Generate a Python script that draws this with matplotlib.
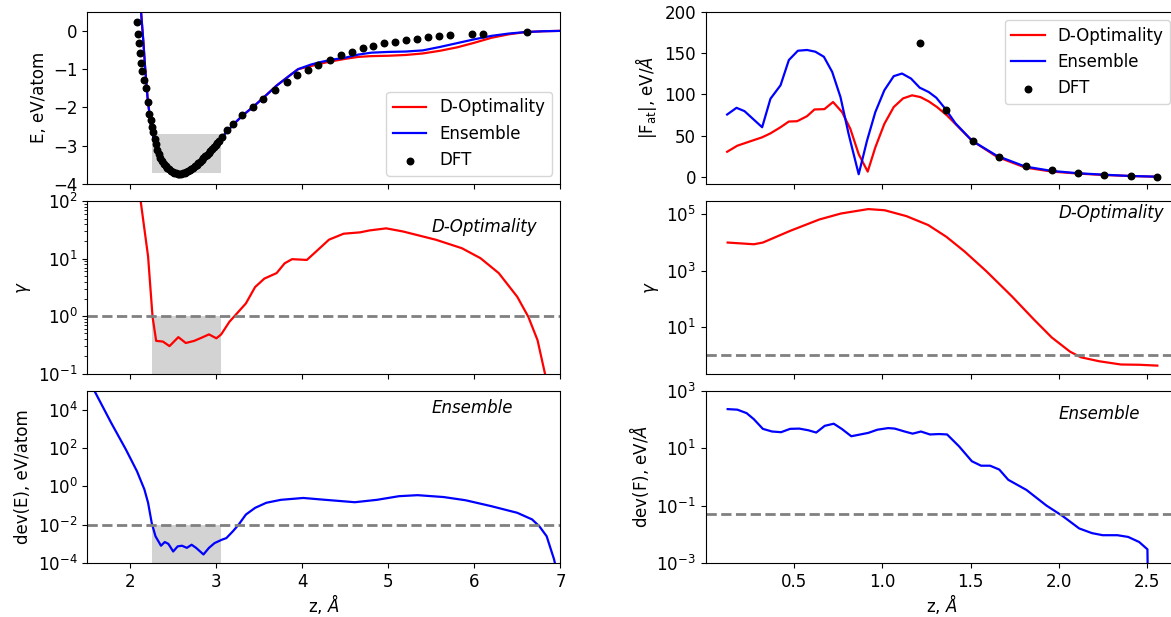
import matplotlib
matplotlib.use('Agg')
import matplotlib.pyplot as plt
from matplotlib.patches import Rectangle
from matplotlib.ticker import NullLocator

plt.rcParams['font.size'] = 12

# --- left column: energy vs z ---
z_common = [2.09, 2.11, 2.124, 2.15, 2.171, 2.20, 2.237, 2.27, 2.30, 2.35, 2.40, 2.45, 2.50,
            2.55, 2.60, 2.65, 2.70, 2.75, 2.80, 2.85, 2.90, 2.95, 3.00, 3.05, 3.10, 3.20,
            3.30, 3.43, 3.55, 3.70, 3.85, 3.95]
e_common = [1.5, 0.9, 0.5, -0.25, -0.94, -1.75, -2.45, -2.82, -3.03, -3.32, -3.50, -3.62, -3.69,
            -3.72, -3.72, -3.69, -3.62, -3.54, -3.44, -3.33, -3.21, -3.08, -2.95, -2.82, -2.69, -2.44,
            -2.22, -1.98, -1.74, -1.43, -1.17, -1.0]
z_tail = [4.10, 4.20, 4.35, 4.50, 4.65, 4.80, 5.00, 5.20, 5.40, 5.60, 5.80, 6.00, 6.20, 6.40,
          6.60, 6.80, 7.00]
e_dopt_tail = [-0.92, -0.86, -0.79, -0.73, -0.68, -0.66, -0.65, -0.63, -0.59, -0.52, -0.43, -0.31,
               -0.18, -0.09, -0.03, -0.01, 0.0]
e_ens_tail = [-0.88, -0.82, -0.75, -0.70, -0.62, -0.57, -0.55, -0.54, -0.51, -0.42, -0.32, -0.22,
              -0.13, -0.07, -0.03, -0.01, 0.0]

z_dft = [2.082, 2.09, 2.098, 2.109, 2.124, 2.14, 2.163, 2.182, 2.202, 2.221, 2.237, 2.252, 2.268,
         2.285, 2.30, 2.31, 2.33, 2.35, 2.37, 2.39, 2.41, 2.43, 2.45, 2.47, 2.49, 2.51, 2.53,
         2.55, 2.57, 2.59, 2.61, 2.63, 2.65, 2.67, 2.69, 2.71, 2.73, 2.75, 2.77, 2.79, 2.81,
         2.83, 2.85, 2.87, 2.89, 2.91, 2.93, 2.95, 2.97, 2.99, 3.01, 3.03, 3.06, 3.12,
         3.198, 3.295, 3.43, 3.547, 3.683, 3.818, 3.942, 4.07, 4.186, 4.322, 4.446, 4.574, 4.702,
         4.826, 4.95, 5.078, 5.206, 5.33, 5.462, 5.59, 5.717, 5.97, 6.097, 6.609]
e_dft = [0.24, -0.07, -0.33, -0.59, -0.83, -1.05, -1.29, -1.48, -1.85, -2.16, -2.33, -2.50, -2.64,
         -2.82, -2.96, -3.10, -3.22, -3.32, -3.40, -3.47, -3.53, -3.58, -3.62, -3.66, -3.68, -3.70,
         -3.72, -3.73, -3.73, -3.73, -3.72, -3.71, -3.69, -3.67, -3.64, -3.61, -3.58, -3.54, -3.50,
         -3.46, -3.42, -3.38, -3.33, -3.28, -3.23, -3.18, -3.13, -3.08, -3.03, -2.98, -2.92, -2.87,
         -2.78, -2.60, -2.42, -2.20, -1.98, -1.77, -1.55, -1.33, -1.16, -1.03, -0.90, -0.75, -0.63,
         -0.55, -0.46, -0.40, -0.33, -0.29, -0.24, -0.20, -0.17, -0.14, -0.11, -0.09, -0.07, -0.03]

z_gamma_l = [2.10, 2.12, 2.206, 2.258, 2.30, 2.378, 2.455, 2.558, 2.644, 2.742, 2.828, 2.914, 3.0,
             3.056, 3.15, 3.236, 3.343, 3.45, 3.558, 3.70, 3.794, 3.88, 4.052, 4.18, 4.309, 4.48,
             4.67, 4.78, 4.974, 5.167, 5.554, 5.854, 6.07, 6.283, 6.498, 6.627, 6.734, 6.82, 6.86]
gamma_l = [250, 100, 10.9, 0.97, 0.37, 0.36, 0.30, 0.43, 0.34, 0.37, 0.42, 0.48, 0.41,
           0.48, 0.79, 1.1, 1.66, 3.2, 4.5, 5.6, 8.3, 9.8, 9.5, 14.2, 21.4, 27.2,
           28.7, 31, 33.7, 29.8, 21.3, 15.2, 10.2, 5.6, 2.17, 0.97, 0.38, 0.1, 0.03]

z_dev_e = [1.55, 1.584, 1.777, 1.948, 2.077, 2.163, 2.206, 2.249, 2.292, 2.356, 2.40, 2.442, 2.498,
           2.55, 2.60, 2.657, 2.712, 2.764, 2.85, 2.914, 2.979, 3.064, 3.116, 3.193, 3.258, 3.343,
           3.45, 3.58, 3.75, 4.01, 4.266, 4.61, 4.867, 5.124, 5.339, 5.64, 5.897, 6.197, 6.498,
           6.67, 6.755, 6.84, 6.927, 6.96]
dev_e = [2e5, 9.5e4, 2.1e3, 85, 6.2, 0.7, 0.14, 0.012, 2.5e-3, 8e-4, 1.25e-3, 1.0e-3, 4e-4,
         7.4e-4, 8e-4, 6.2e-4, 9e-4, 6.2e-4, 2.8e-4, 6.2e-4, 1.1e-3, 1.65e-3, 2.0e-3, 4.6e-3, 0.010,
         0.034, 0.076, 0.14, 0.20, 0.25, 0.20, 0.15, 0.20, 0.31, 0.35, 0.28, 0.19, 0.093, 0.042,
         0.019, 8.3e-3, 2.5e-3, 1.5e-4, 3e-5]

# --- right column: force vs z ---
z_f_ens = [0.123, 0.176, 0.221, 0.321, 0.368, 0.425, 0.472, 0.523, 0.575, 0.622, 0.67, 0.717,
           0.764, 0.81, 0.867, 0.914, 0.961, 1.012, 1.065, 1.112, 1.163, 1.212, 1.263, 1.306,
           1.357, 1.414, 1.508, 1.649, 1.809, 1.96, 2.11, 2.251, 2.402, 2.553]
f_ens = [75.6, 83.7, 79.7, 60.2, 94.7, 111, 141.5, 152.8, 153.7, 151.6, 145.5, 127.2,
         96.7, 52, 3.3, 43.9, 78.5, 104.9, 122, 125.2, 119.1, 108.1, 102.8, 95.9,
         82.5, 65, 43.9, 25.6, 12.6, 7.3, 4.5, 2.8, 1.2, 0.4]
z_f_dopt = [0.123, 0.18, 0.236, 0.321, 0.368, 0.425, 0.472, 0.519, 0.575, 0.617, 0.673, 0.722,
            0.773, 0.82, 0.867, 0.918, 0.961, 1.012, 1.065, 1.118, 1.169, 1.216, 1.263, 1.31,
            1.367, 1.442, 1.508, 1.649, 1.809, 1.96, 2.11, 2.251, 2.402, 2.553]
f_dopt = [30.5, 37.8, 41.9, 48, 52.8, 60.2, 67.1, 67.5, 73.6, 81.7, 82.1, 90.7,
          78.5, 58.1, 27.6, 6.5, 35.8, 64.2, 84.6, 95.1, 98.8, 96.7, 91.5, 84.6,
          74.4, 58.1, 43.9, 24.4, 11.4, 6.5, 4.1, 2.4, 1.2, 0.2]
z_f_dft = [1.216, 1.362, 1.511, 1.66, 1.811, 1.96, 2.108, 2.257, 2.406, 2.553]
f_dft = [161.8, 81.3, 43.1, 24.4, 13.4, 8.1, 4.5, 2.8, 1.6, 0.3]

z_gamma_r = [0.126, 0.274, 0.325, 0.479, 0.644, 0.767, 0.921, 1.014, 1.137, 1.26, 1.363, 1.466,
             1.589, 1.733, 1.857, 1.959, 2.062, 2.124, 2.227, 2.35, 2.453, 2.556]
gamma_r = [1.0e4, 8.7e3, 1.0e4, 2.6e4, 6.6e4, 1.08e5, 1.55e5, 1.41e5, 8.7e4, 4.2e4, 1.6e4, 4.8e3,
           955, 123, 18.6, 4.2, 1.32, 0.83, 0.60, 0.46, 0.45, 0.42]

z_dev_f = [0.126, 0.181, 0.233, 0.274, 0.325, 0.377, 0.428, 0.479, 0.531, 0.582, 0.627, 0.675,
           0.726, 0.771, 0.825, 0.921, 0.973, 1.034, 1.071, 1.127, 1.172, 1.219, 1.27, 1.322,
           1.367, 1.435, 1.507, 1.559, 1.61, 1.662, 1.713, 1.816, 1.929, 2.021, 2.114, 2.186,
           2.247, 2.33, 2.391, 2.453, 2.50, 2.503]
dev_f = [229, 219, 166, 102, 47, 38, 36, 47, 48, 42, 35, 60,
         71, 47, 26, 34, 44, 50, 48, 38, 32, 38, 30, 31,
         30, 11.5, 3.5, 2.45, 2.45, 1.8, 0.79, 0.35, 0.1, 0.043, 0.016, 0.011,
         0.0093, 0.0093, 0.0081, 0.0054, 0.003, 1e-4]

# training region and thresholds
train_lo, train_hi = 2.25, 3.05
gamma_thr = 1.0
dev_e_thr = 1e-2
dev_f_thr = 5e-2

fig, axes = plt.subplots(3, 2, figsize=(11.71, 6.17), dpi=100)
plt.subplots_adjust(left=0.0746, right=1.0066, bottom=0.0875, top=0.981, wspace=0.307, hspace=0.1)
lw = 1.6
zlab = r'z, $\AA$'

# top left
ax = axes[0, 0]
ax.add_patch(Rectangle((train_lo, -3.7), train_hi - train_lo, 1.0, color='lightgray', lw=0, zorder=0))
ax.plot(z_common + z_tail, e_common + e_dopt_tail, color='r', lw=lw, label='D-Optimality')
ax.plot(z_common + z_tail, e_common + e_ens_tail, color='b', lw=lw, label='Ensemble')
ax.scatter(z_dft, e_dft, s=22, c='k', label='DFT', zorder=3)
ax.set_xlim(1.5, 7)
ax.set_ylim(-4, 0.5)
ax.set_ylabel('E, eV/atom')
ax.legend(loc='lower right')
ax.tick_params(labelbottom=False)

# middle left
ax = axes[1, 0]
ax.fill_between([train_lo, train_hi], 0.1, gamma_thr, color='lightgray', lw=0, zorder=0)
ax.plot(z_gamma_l, gamma_l, color='r', lw=lw)
ax.axhline(gamma_thr, color='gray', ls='--', lw=2)
ax.set_yscale('log')
ax.set_xlim(1.5, 7)
ax.set_ylim(0.1, 100)
ax.set_ylabel(r'$\gamma$')
ax.text(5.5, 36, 'D-Optimality', style='italic', va='center')
ax.tick_params(labelbottom=False)

# bottom left
ax = axes[2, 0]
ax.fill_between([train_lo, train_hi], 1e-4, dev_e_thr, color='lightgray', lw=0, zorder=0)
ax.plot(z_dev_e, dev_e, color='b', lw=lw)
ax.axhline(dev_e_thr, color='gray', ls='--', lw=2)
ax.set_yscale('log')
ax.set_xlim(1.5, 7)
ax.set_ylim(1e-4, 1e5)
ax.set_yticks([1e-4, 1e-2, 1e0, 1e2, 1e4])
ax.yaxis.set_minor_locator(NullLocator())
ax.set_ylabel('dev(E), eV/atom')
ax.set_xlabel(zlab, labelpad=1)
ax.text(5.5, 1.2e4, 'Ensemble', style='italic', va='center')

# top right
ax = axes[0, 1]
ax.plot(z_f_dopt, f_dopt, color='r', lw=lw, label='D-Optimality')
ax.plot(z_f_ens, f_ens, color='b', lw=lw, label='Ensemble')
ax.scatter(z_f_dft, f_dft, s=22, c='k', label='DFT', zorder=3)
ax.set_xlim(0.0015, 2.677)
ax.set_ylim(-8.5, 200)
ax.set_ylabel(r'|F$_{\rm at}$|, eV/$\AA$')
ax.legend(loc='upper right')
ax.tick_params(labelbottom=False)

# middle right
ax = axes[1, 1]
ax.plot(z_gamma_r, gamma_r, color='r', lw=lw)
ax.axhline(gamma_thr, color='gray', ls='--', lw=2)
ax.set_yscale('log')
ax.set_xlim(0.0015, 2.677)
ax.set_ylim(0.22, 2.95e5)
ax.set_yticks([1e1, 1e3, 1e5])
ax.yaxis.set_minor_locator(NullLocator())
ax.set_ylabel(r'$\gamma$')
ax.text(2.0, 1.08e5, 'D-Optimality', style='italic', va='center')
ax.tick_params(labelbottom=False)

# bottom right
ax = axes[2, 1]
ax.plot(z_dev_f, dev_f, color='b', lw=lw)
ax.axhline(dev_f_thr, color='gray', ls='--', lw=2)
ax.set_yscale('log')
ax.set_xlim(0.0015, 2.677)
ax.set_ylim(1e-3, 1e3)
ax.set_yticks([1e-3, 1e-1, 1e1, 1e3])
ax.yaxis.set_minor_locator(NullLocator())
ax.set_ylabel(r'dev(F), eV/$\AA$')
ax.set_xlabel(zlab, labelpad=1)
ax.text(2.0, 155, 'Ensemble', style='italic', va='center')

fig.savefig('out.png', dpi=100)
